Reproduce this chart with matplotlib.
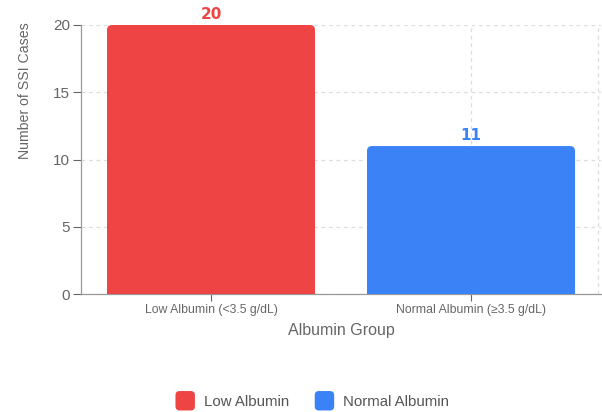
import numpy as np
import matplotlib
matplotlib.use("Agg")
import matplotlib.pyplot as plt
from matplotlib.path import Path
from matplotlib.patches import PathPatch, FancyBboxPatch, Patch
from matplotlib.legend_handler import HandlerPatch

groups = ["Low Albumin (<3.5 g/dL)", "Normal Albumin (≥3.5 g/dL)"]
legend_names = ["Low Albumin", "Normal Albumin"]
ssi_cases = [20, 11]
colors = ["#EF4444", "#3B82F6"]

plt.rcParams["font.family"] = ["Liberation Sans", "DejaVu Sans"]
GREY = "#666666"

fig = plt.figure(figsize=(6.02, 4.12), dpi=100, facecolor="white")
ax = fig.add_axes([81 / 602, 1 - 294 / 412, 520 / 602, 269 / 412])
ax.set_xlim(-0.5, 1.5)
ax.set_ylim(0, 20)

# px -> data units for the rounded corners
rx = 5 * 2.0 / 520
ry = 5 * 20.0 / 269


def rounded_top_bar(x0, w, h, color):
    x1 = x0 + w
    verts = [(x0, 0), (x0, h - ry), (x0, h), (x0 + rx, h), (x1 - rx, h),
             (x1, h), (x1, h - ry), (x1, 0), (x0, 0)]
    codes = [Path.MOVETO, Path.LINETO, Path.CURVE3, Path.CURVE3, Path.LINETO,
             Path.CURVE3, Path.CURVE3, Path.LINETO, Path.CLOSEPOLY]
    return PathPatch(Path(verts, codes), facecolor=color, edgecolor="none", zorder=3)


x = np.arange(len(groups))
bw = 0.8
for xi, v, c in zip(x, ssi_cases, colors):
    ax.add_patch(rounded_top_bar(xi - bw / 2, bw, v, c))
    ax.text(xi, v + 0.25, str(v), ha="center", va="bottom", color=c,
            fontsize=11, fontweight="bold", family=["DejaVu Sans"])

ax.set_yticks([0, 5, 10, 15, 20])
ax.set_xticks(x)
ax.set_xticklabels(groups, fontsize=8.8, color=GREY)
ax.tick_params(axis="y", labelsize=11, colors=GREY, length=6, width=0.8, pad=2)
ax.tick_params(axis="x", colors=GREY, length=5, width=0.8, pad=2)

ax.grid(True, color="#dddddd", linestyle=(0, (3, 3)), linewidth=0.9, zorder=0)
ax.set_axisbelow(True)
for s in ["top", "right"]:
    ax.spines[s].set_visible(False)
for s in ["left", "bottom"]:
    ax.spines[s].set_color("#999999")
    ax.spines[s].set_linewidth(0.9)
# right boundary grid line
ax.axvline(1.49, color="#dddddd", linestyle=(0, (3, 3)), linewidth=0.9, zorder=0)

ax.set_ylabel("Number of SSI Cases", fontsize=10.2, color=GREY)
ax.yaxis.set_label_coords((32 - 81) / 520, (294 - 91) / 269)
ax.set_xlabel("Albumin Group", fontsize=11.5, color=GREY, labelpad=5)


class RoundSquare(HandlerPatch):
    def create_artists(self, legend, orig, xd, yd, width, height, fontsize, trans):
        s = 14
        p = FancyBboxPatch((xd + width - s, yd + height / 2 - s / 2), s, s,
                           boxstyle="round,pad=0,rounding_size=3",
                           facecolor=orig.get_facecolor(), edgecolor="none",
                           transform=trans)
        return [p]


handles = [Patch(facecolor=c) for c in colors]
leg = fig.legend(handles, legend_names, loc="center", bbox_to_anchor=(0.52, 1 - 402 / 412),
                 ncol=2, frameon=False, fontsize=10.8, handletextpad=0.6, columnspacing=1.8,
                 handlelength=1.2, handler_map={Patch: RoundSquare()})
for t in leg.get_texts():
    t.set_color("#555555")

fig.savefig("out.png", dpi=100, facecolor="white")
